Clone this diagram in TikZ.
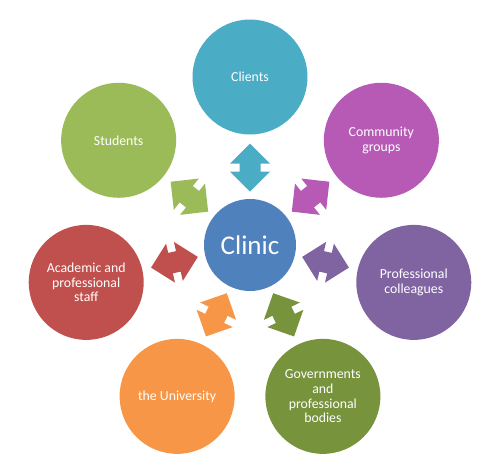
\documentclass[tikz,border=0pt]{standalone}
\usepackage{fontspec}
\setmainfont{Carlito}
\definecolor{clinicblue}{HTML}{4F81BD}
\definecolor{clientteal}{HTML}{4BACC6}
\definecolor{communitypink}{HTML}{B65AB6}
\definecolor{colleaguepurple}{HTML}{8064A2}
\definecolor{govgreen}{HTML}{77933C}
\definecolor{uniorange}{HTML}{F79646}
\definecolor{staffred}{HTML}{C0504D}
\definecolor{studentgreen}{HTML}{9BBB59}

\tikzset{
  party/.style={circle, minimum size=115pt, inner sep=0pt, text=white, align=center,
    font=\fontsize{13.8}{14.7}\selectfont},
  linkarrow/.pic={
    \fill[pic actions] (-24,0) -- (-4,20) -- (-4,10.5) -- (4,10.5) -- (4,20) -- (24,0)
      -- (4,-20) -- (4,-10.5) -- (-4,-10.5) -- (-4,-20) -- cycle;
  },
}

\begin{document}
\begin{tikzpicture}[x=1pt,y=1pt]
\useasboundingbox (-250,-230) rectangle (242,245);
\node[circle, fill=clinicblue, minimum size=92pt, inner sep=0pt, text=white,
  font=\fontsize{27}{30}\selectfont] (clinic) {Clinic};
% the seven partners round the clinic
\foreach \ang/\col/\nm/\txt in {
  90/clientteal/clients/{Clients},
  38.57/communitypink/community/{Community\\groups},
  -12.86/colleaguepurple/colleagues/{Professional\\colleagues},
  -64.29/govgreen/gov/{Governments\\and\\professional\\bodies},
  -115.71/uniorange/uni/{the University},
  192.86/staffred/staff/{Academic and\\professional\\staff},
  141.43/studentgreen/students/{Students}}{
  \node[party, fill=\col] (\nm) at (\ang:168) {\txt};
  \pic[fill=\col, rotate=\ang] (\nm-link) at (\ang:77.5) {linkarrow};
}
\end{tikzpicture}
\end{document}
